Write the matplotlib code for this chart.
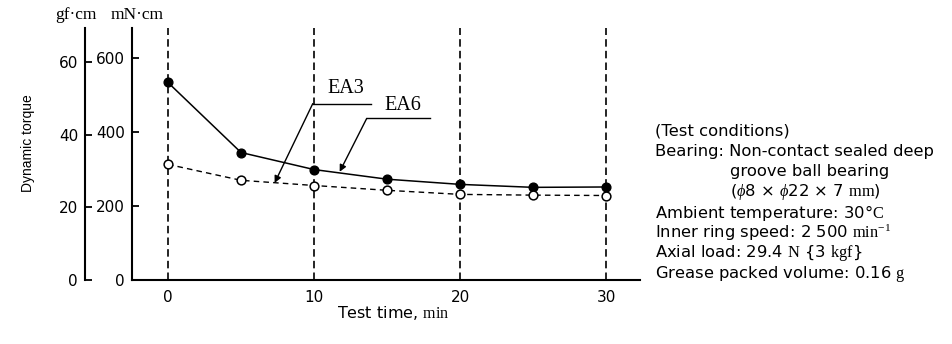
import matplotlib.pyplot as plt

plt.rcParams['font.family'] = ['DejaVu Sans']
plt.rcParams['mathtext.fontset'] = 'custom'
plt.rcParams['mathtext.rm'] = 'Liberation Serif'
plt.rcParams['mathtext.it'] = 'Liberation Serif:italic'

# данные
time_min = [0, 5, 10, 15, 20, 25, 30]
torque_ea6 = [533, 344, 298, 272, 258, 250, 251]   # mN·cm, сплошная
torque_ea3 = [312, 269, 255, 242, 231, 229, 228]   # mN·cm, пунктир
grid_x = [0, 10, 20, 30]
mn_ticks = [0, 200, 400, 600]
gf_ticks = [0, 20, 40, 60]
GF_TO_MN = 9.80665

conditions = [
    ('(Test conditions)', 0),
    ('Bearing: Non-contact sealed deep', 0),
    ('groove ball bearing', 1),
    (r'($\it{\phi}$8 × $\it{\phi}$22 × 7 $\mathrm{mm}$)', 1),
    (r'Ambient temperature: 30°$\mathrm{C}$', 0),
    (r'Inner ring speed: 2 500 $\mathrm{min}^{-1}$', 0),
    (r'Axial load: 29.4 $\mathrm{N}$ {3 $\mathrm{kgf}$}', 0),
    (r'Grease packed volume: 0.16 $\mathrm{g}$', 0),
]

W, H = 953, 344
fig = plt.figure(figsize=(W / 100, H / 100), dpi=100)
ax = fig.add_axes([132 / W, 64 / H, 508 / W, 252 / H])

ax.set_xlim(-2.46, 32.3)
ax.set_ylim(0, 680)

for x in grid_x:
    ax.axvline(x, color='k', lw=1.2, linestyle=(0, (4.5, 2.5)), zorder=1)

ax.plot(time_min, torque_ea6, '-', color='k', lw=1.1, marker='o',
        markersize=6.3, markerfacecolor='k', zorder=3)
ax.plot(time_min, torque_ea3, color='k', lw=1.0, linestyle=(0, (4, 3)),
        marker='o', markersize=6.3, markerfacecolor='white',
        markeredgewidth=1.1, zorder=3)

# выноски
arrow = dict(arrowstyle='-|>', color='k', lw=1.0, mutation_scale=10,
             shrinkA=0, shrinkB=0)
ax.plot([9.91, 13.9], [476, 476], color='k', lw=1.0)
ax.annotate('', xy=(7.3, 262), xytext=(9.91, 476), arrowprops=arrow)
ax.text(12.2, 516, 'EA3', family='Liberation Serif', fontsize=14.5,
        ha='center', va='center')
ax.plot([13.6, 17.9], [436, 436], color='k', lw=1.0)
ax.annotate('', xy=(11.75, 292), xytext=(13.6, 436), arrowprops=arrow)
ax.text(16.1, 470, 'EA6', family='Liberation Serif', fontsize=14.5,
        ha='center', va='center')

for s in ['top', 'right']:
    ax.spines[s].set_visible(False)
ax.spines['left'].set_linewidth(1.5)
ax.spines['bottom'].set_linewidth(1.5)
ax.set_xticks(grid_x)
ax.set_yticks(mn_ticks)
ax.tick_params(axis='x', length=0, pad=7, labelsize=11)
ax.tick_params(axis='y', direction='in', length=5, width=1.3, pad=5,
               labelsize=11)

# шкала gf·cm
ax2 = ax.twinx()
ax2.set_ylim(0, 680 / GF_TO_MN)
ax2.yaxis.set_ticks_position('left')
for s in ['top', 'right', 'bottom']:
    ax2.spines[s].set_visible(False)
ax2.spines['left'].set_position(('outward', 47 * 0.72))
ax2.spines['left'].set_linewidth(1.5)
ax2.set_yticks(gf_ticks)
ax2.tick_params(axis='y', direction='in', length=5, width=1.3, pad=5,
                labelsize=11)

fig.text(76 / W, 1 - 15 / H, 'gf·cm', family='Liberation Serif',
         fontsize=12.5, ha='center', va='center')
fig.text(137 / W, 1 - 15 / H, 'mN·cm', family='Liberation Serif',
         fontsize=12.5, ha='center', va='center')
fig.text(28 / W, 1 - 143 / H, 'Dynamic torque', rotation=90,
         family='Liberation Sans', fontsize=10,
         ha='center', va='center')
fig.text(393 / W, 1 - 313 / H, r'Test time, $\mathrm{min}$',
         fontsize=11.5, ha='center', va='center')

y0, step = 131, 20.4
for i, (line, indent) in enumerate(conditions):
    x = 730 if indent else 655
    fig.text(x / W, 1 - (y0 + i * step) / H, line, fontsize=11.8,
             ha='left', va='center')

fig.savefig('out.png', dpi=100)
